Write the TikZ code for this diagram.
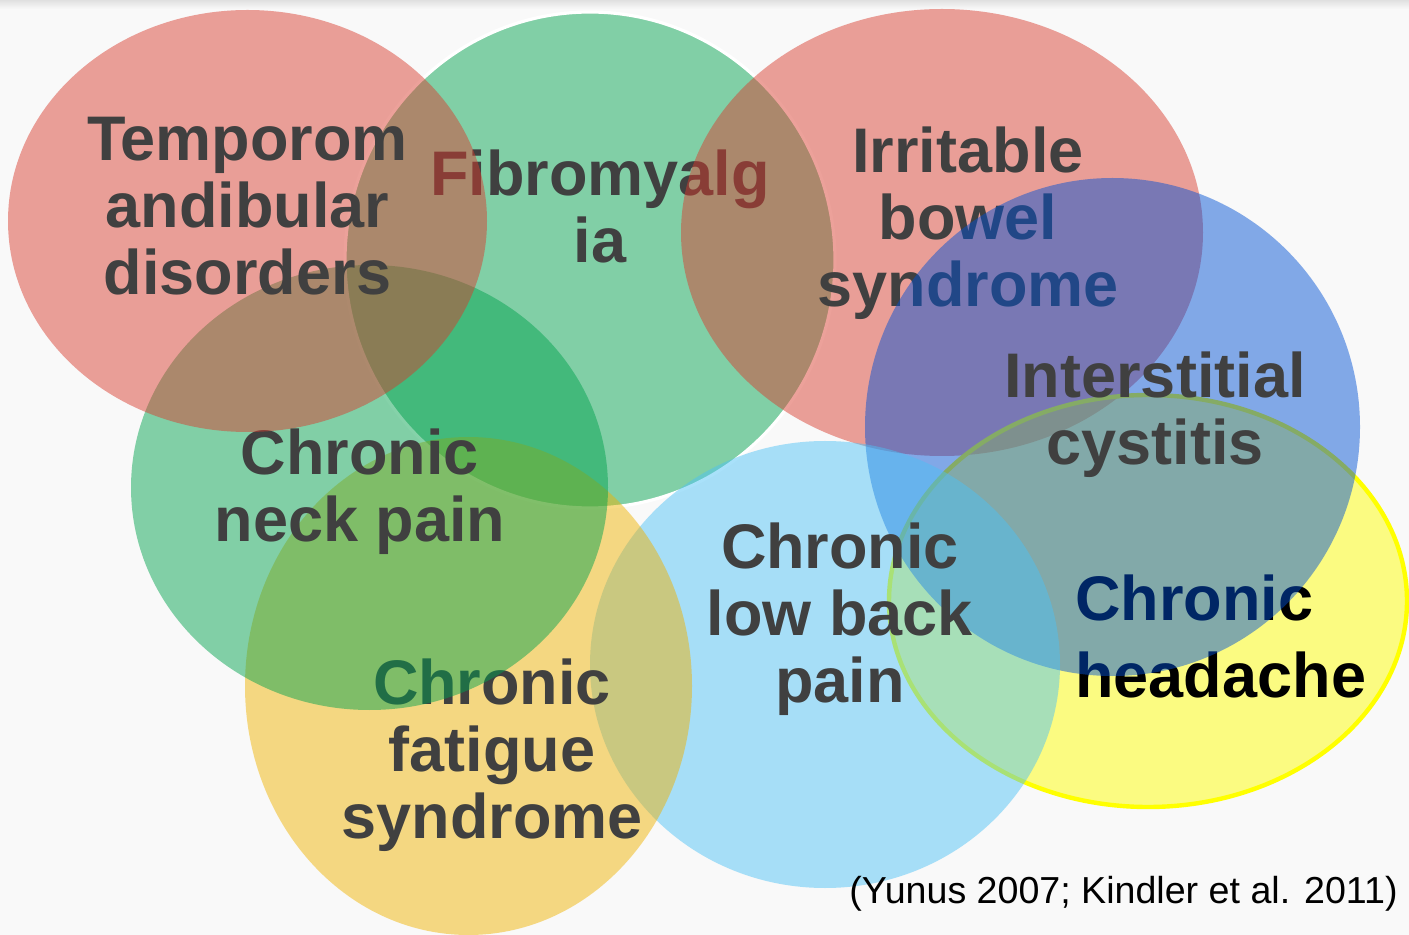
\documentclass[tikz,border=0pt]{standalone}
\usepackage{fontspec}
\setmainfont{Liberation Sans}
\definecolor{bgc}{HTML}{F9F9F9}
\definecolor{redc}{HTML}{D93B2D}
\definecolor{greenc}{HTML}{00A24D}
\definecolor{orangec}{HTML}{F0B200}
\definecolor{lbluec}{HTML}{4CC1F5}
\definecolor{bluec}{HTML}{0050D5}
\definecolor{yellowc}{HTML}{FFFF00}
\definecolor{textc}{HTML}{404040}
\begin{document}
\begin{tikzpicture}[x=0.5pt,y=-0.5pt,
  blob/.style={fill opacity=0.48},
  lbl/.style={text=textc, font=\fontsize{31.5}{33.5}\selectfont\bfseries, align=center, anchor=base, inner sep=0pt},
  cite/.style={text=black, font=\fontsize{18.8}{22}\selectfont, anchor=base east, inner sep=0pt}]
\useasboundingbox (0,0) rectangle (1409,935);
\clip (0,0) rectangle (1409,935);
\fill[bgc] (0,0) rectangle (1409,935);
\shade[top color=black!12, bottom color=bgc] (0,0) rectangle (1409,9);
% Fibromyalgia
\filldraw[fill=greenc, blob, draw=white, line width=1.6pt] (590,260) ellipse [x radius=245, y radius=248];
\node[lbl] (fibro) at (600,263) {Fibromyalg\\ia};
% IBS
\fill[redc, blob] (942,232.5) ellipse [x radius=261, y radius=223.5];
\node[lbl] (ibs) at (968,307) {Irritable\\bowel\\syndrome};
% Chronic headache
\fill[yellowc, blob] (1148,601) ellipse [x radius=259, y radius=206];
\draw[yellowc, line width=2.2pt] (1148,601) ellipse [x radius=259, y radius=206];
\node[lbl, text=black, align=left, anchor=base west, font=\fontsize{31.5}{38.5}\selectfont\bfseries] (head) at (1075,697) {Chronic\\headache};
% Interstitial cystitis
\fill[bluec, blob] (1112.5,427) ellipse [x radius=247.5, y radius=249];
\node[lbl] (ic) at (1155,465) {Interstitial\\cystitis};
% Chronic low back pain
\fill[lbluec, blob] (825,664.5) ellipse [x radius=235, y radius=223.5];
\node[lbl] (back) at (840,702) {Chronic\\low back\\pain};
% Chronic fatigue syndrome
\fill[orangec, blob] (468.5,686) ellipse [x radius=223.5, y radius=249];
\node[lbl] (fatigue) at (492,838) {Chronic\\fatigue\\syndrome};
% Chronic neck pain
\fill[greenc, blob] (369.5,487.5) ellipse [x radius=238.5, y radius=222.5];
\node[lbl] (neck) at (360,542) {Chronic\\neck pain};
% TMD
\fill[redc, blob] (247.5,221) ellipse [x radius=239.5, y radius=211];
\node[lbl] (tmd) at (247.5,295) {Temporom\\andibular\\disorders};
% citation
\node[cite] (ref) at (1398,903) {(Yunus 2007; Kindler et al. 2011)};
\end{tikzpicture}
\end{document}
